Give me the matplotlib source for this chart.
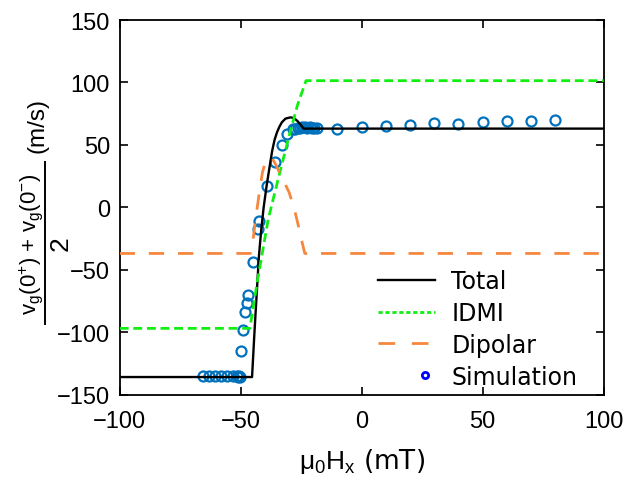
import matplotlib
matplotlib.use("Agg")
import matplotlib.pyplot as plt
from matplotlib.lines import Line2D
from matplotlib.legend_handler import HandlerLine2D
import numpy as np

plt.rcParams['font.family'] = ['DejaVu Sans']
plt.rcParams['mathtext.fontset'] = 'custom'
plt.rcParams['mathtext.rm'] = 'Liberation Sans'
plt.rcParams['mathtext.it'] = 'Liberation Sans'
plt.rcParams['mathtext.bf'] = 'Liberation Sans:bold'

# Theory curves
total_x = [-100, -45.3, -44.3, -43.4, -42.5, -41.5, -40.5, -39.3, -38, -37, -36, -35, -34, -33, -31.5, -29.5, -28, -26.5, -25, -24, 100]
total_y = [-136, -136, -100, -70, -40, -18, 0, 17, 33, 45, 54, 60, 64.5, 68, 71, 72, 71.5, 69, 65.5, 63, 63]

idmi_x = [-100, -46.2, -43, -41, -38.6, -34.5, -30, -26.5, -23, 100]
idmi_y = [-97, -97, -58, -36, -9.4, 22.7, 57, 82, 101.4, 101.4]

dip_x = [-100, -46, -45, -44, -43, -42, -41, -40, -39, -38, -37, -36, -35, -34, -32, -30, -28, -26.5, -25, -23.5, 100]
dip_y = [-37, -37, -28, -12, 2, 16, 28, 35, 39, 40, 39, 36, 32, 28, 20, 12, 0, -12, -25, -37, -37]

# Simulation points
sim_x = [-65.5, -63, -60.5, -58, -55.5, -53, -51.5, -51, -50.5, -50.2,
         -50, -49, -48.1, -47.3, -46.9, -45, -43, -42.4, -39, -35.8, -33.1, -30.8,
         -28.5, -27.5, -26.5, -25.5, -24.5, -23.5, -22.5, -21.5, -20.5, -19.5, -18.5,
         -10, 0, 10, 20, 30, 40, 50, 60, 70, 80]
sim_y = [-135.5, -135.5, -135.5, -135.5, -135.5, -135.5, -135.3, -136, -135.5, -136.3,
         -115, -98.3, -83.7, -76.7, -70.3, -44, -17.4, -10.7, 16.8, 36.5, 50.2, 59,
         62.5, 63, 63.5, 63.5, 64, 64, 63.5, 64, 63.5, 63.5, 63.5,
         62.7, 64.6, 65.1, 66.2, 67.3, 66.7, 68.1, 69.2, 69.4, 70]

xticks = [-100, -50, 0, 50, 100]
yticks = [-150, -100, -50, 0, 50, 100, 150]


class RightMarkerHandler(HandlerLine2D):
    def get_xdata(self, legend, xdescent, ydescent, width, height, fontsize):
        xd = np.array([-xdescent + 0.82 * width])
        return xd, xd


W, H = 639, 485
fig = plt.figure(figsize=(6.39, 4.85), dpi=100)
ax = fig.add_axes([0.1873, 0.1845, 0.7574, 0.7722])

ax.plot(sim_x, sim_y, linestyle='none', marker='o', markersize=7.2, markerfacecolor='none',
        markeredgecolor='#0072BD', markeredgewidth=1.6, zorder=2)
ax.plot(total_x, total_y, color='black', lw=1.7, zorder=3)
ax.plot(idmi_x, idmi_y, color='#11EE11', lw=2.0, dashes=(3.2, 1.7), zorder=3)
ax.plot(dip_x, dip_y, color='#F5873F', lw=2.0, dashes=(5.5, 5.0), zorder=3)

ax.set_xlim(-100, 100)
ax.set_ylim(-150, 150)
ax.set_xticks(xticks)
ax.set_yticks(yticks)
ax.tick_params(direction='in', length=6, width=1.2, top=True, right=True, labelsize=17)
ax.tick_params(axis='x', pad=11)
ax.tick_params(axis='y', pad=7)
for lab in ax.get_xticklabels() + ax.get_yticklabels():
    lab.set_fontfamily('Liberation Sans')
for sp in ax.spines.values():
    sp.set_linewidth(1.3)

ax.set_xlabel(r'$\mathrm{\mu_0H_x}$ (mT)', fontsize=19, labelpad=10)

# y label: fraction (numerator, bar, denominator) and units as rotated texts
fig.text(31 / W, 1 - 244 / H, r'v$_\mathrm{g}$(0$^\mathrm{+}$) + v$_\mathrm{g}$(0$^\mathrm{-}$)',
         rotation=90, fontsize=16, fontfamily='Liberation Sans', ha='center', va='center')
fig.add_artist(Line2D([45 / W, 45 / W], [1 - 163 / H, 1 - 325 / H], color='black',
                      lw=1.4, transform=fig.transFigure))
fig.text(61 / W, 1 - 244 / H, '2', rotation=90, fontsize=19,
         fontfamily='Liberation Sans', ha='center', va='center')
fig.text(37 / W, 1 - 126 / H, '(m/s)', rotation=90, fontsize=17.5,
         fontfamily='Liberation Sans', ha='center', va='center')

handles = [
    Line2D([], [], color='black', lw=1.7),
    Line2D([], [], color='#11EE11', lw=2.0, dashes=(1.5, 1.0)),
    Line2D([], [], color='#F5873F', lw=2.0, dashes=(6, 6)),
    Line2D([], [], linestyle='none', marker='o', markersize=4.5, markerfacecolor='none',
           markeredgecolor='#0000FF', markeredgewidth=2.0),
]
labels = ['Total', 'IDMI', 'Dipolar', 'Simulation']
fig.legend(handles, labels, loc='upper left', bbox_to_anchor=(0.592, 0.443), frameon=False,
           fontsize=17, handlelength=2.4, handletextpad=0.7, labelspacing=0.33,
           borderpad=0, borderaxespad=0, numpoints=1,
           handler_map={handles[3]: RightMarkerHandler()})

fig.savefig('out.png', dpi=100)
